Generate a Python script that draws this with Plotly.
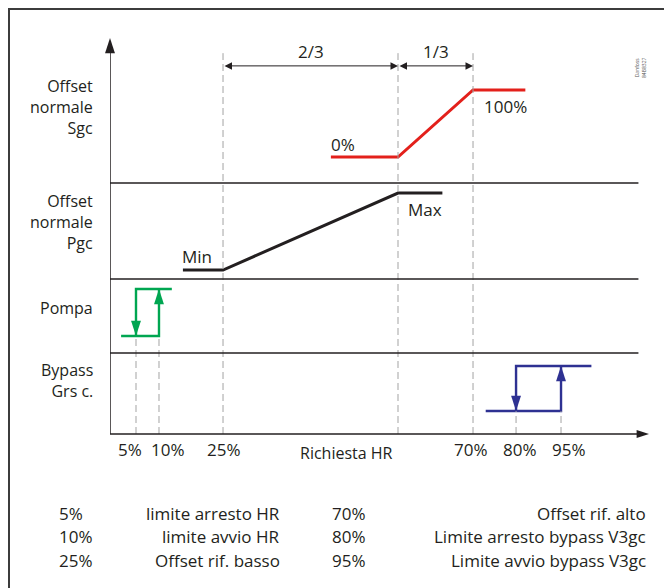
import plotly.graph_objects as go

# ---------------------------------------------------------------------------
# Data
# ---------------------------------------------------------------------------
# HR demand axis: schematic positions along the axis (0..100 = length up to the
# end of the panel separators), with the tick labels shown under the axis.
hr_labels = ["5%", "10%", "25%", "70%", "80%", "95%"]
hr_pos = [4.92, 9.27, 21.39, 68.70, 76.84, 85.35]
split_pos = 54.50          # 2/3 of the way from 25% to 70%
bracket_labels = ["2/3", "1/3"]

# Offset normale Sgc: 0 % .. 100 %
sgc_x = [41.8, split_pos, hr_pos[3], 78.6]
sgc_y = [0, 0, 100, 100]

# Offset normale Pgc: Min (0) .. Max (1)
pgc_x = [13.8, hr_pos[2], split_pos, 62.9]
pgc_y = [0, 0, 1, 1]

# Pompa: stops at 5 %, starts at 10 % (0 = off, 1 = on)
pump_x = [11.7, hr_pos[0], hr_pos[0], None, 2.1, hr_pos[1], hr_pos[1]]
pump_y = [1, 1, 0, None, 0, 0, 1]
pump_arrow_x = [hr_pos[0], hr_pos[1]]
pump_arrow_y = [0, 1]

# Bypass Grs c.: stops at 80 %, starts at 95 %
byp_x = [91.1, hr_pos[4], hr_pos[4], None, 71.1, hr_pos[5], hr_pos[5]]
byp_y = [1, 1, 0, None, 0, 0, 1]
byp_arrow_x = [hr_pos[4], hr_pos[5]]
byp_arrow_y = [0, 1]

# Explanation table under the chart
legend_left_pct = ["5%", "10%", "25%"]
legend_left_txt = ["limite arresto HR", "limite avvio HR", "Offset rif. basso"]
legend_right_pct = ["70%", "80%", "95%"]
legend_right_txt = ["Offset rif. alto", "Limite arresto bypass V3gc",
                    "Limite avvio bypass V3gc"]

row_titles = {
    "sgc": ["Offset", "normale", "Sgc"],
    "pgc": ["Offset", "normale", "Pgc"],
    "pump": ["Pompa"],
    "byp": ["Bypass", "Grs c."],
}

# ---------------------------------------------------------------------------
# Styling / layout
# ---------------------------------------------------------------------------
W, H = 664, 588
ML, MR, MT, MB = 110, 15, 38, 154
PW, PH = W - ML - MR, H - MT - MB
X_RANGE = [0, 102]

INK = "#231f20"
GRID = "#a3a3a3"
RED = "#e3201b"
GREEN = "#00a651"
BLUE = "#2e3192"
FONT = "Open Sans"
FS = 17

# panel rows: (axis id, paper domain, value range)
rows = {
    "byp": ("y", [0.0, 0.2045], [-0.5111, 1.2889]),
    "pump": ("y2", [0.2045, 0.3914], [-0.3617, 1.2128]),
    "pgc": ("y3", [0.3914, 0.6338], [-0.1169, 1.1299]),
    "sgc": ("y4", [0.6338, 1.0], [-38.81, 177.61]),
}


def paper_y(row, v):
    _, (d0, d1), (r0, r1) = rows[row]
    return d0 + (v - r0) / (r1 - r0) * (d1 - d0)


def px_x(px):
    return (px - ML) / PW


def px_y(py):
    return (H - MB - py) / PH


fig = go.Figure()

# signal curves
fig.add_trace(go.Scatter(x=sgc_x, y=sgc_y, yaxis="y4", mode="lines",
                         line=dict(color=RED, width=3)))
fig.add_trace(go.Scatter(x=pgc_x, y=pgc_y, yaxis="y3", mode="lines",
                         line=dict(color=INK, width=3)))
fig.add_trace(go.Scatter(x=pump_x, y=pump_y, yaxis="y2", mode="lines",
                         line=dict(color=GREEN, width=2.4)))
fig.add_trace(go.Scatter(x=pump_arrow_x, y=pump_arrow_y, yaxis="y2", mode="markers",
                         marker=dict(symbol="arrow", size=16, angle=[180, 0],
                                     color=GREEN, line=dict(width=0))))
fig.add_trace(go.Scatter(x=byp_x, y=byp_y, yaxis="y", mode="lines",
                         line=dict(color=BLUE, width=2.4)))
fig.add_trace(go.Scatter(x=byp_arrow_x, y=byp_arrow_y, yaxis="y", mode="markers",
                         marker=dict(symbol="arrow", size=16, angle=[180, 0],
                                     color=BLUE, line=dict(width=0))))

# axis arrow heads
fig.add_trace(go.Scatter(x=[0], y=[rows["sgc"][2][1]], yaxis="y4", mode="markers",
                         cliponaxis=False,
                         marker=dict(symbol="arrow", size=16, angle=0, color=INK,
                                     line=dict(width=0))))
fig.add_trace(go.Scatter(x=[X_RANGE[1]], y=[rows["byp"][2][0]], yaxis="y", mode="markers",
                         cliponaxis=False,
                         marker=dict(symbol="arrow", size=13, angle=90, color=INK,
                                     line=dict(width=0))))

shapes = []
# outer frame
shapes.append(dict(type="rect", xref="paper", yref="paper",
                   x0=px_x(9), x1=px_x(700), y0=px_y(640), y1=px_y(9),
                   line=dict(color="#3c3c3c", width=2), fillcolor="rgba(0,0,0,0)"))

# dashed guide lines
guide_top = 155
for xv in [hr_pos[2], split_pos, hr_pos[3]]:
    shapes.append(dict(type="line", xref="x", yref="paper", x0=xv, x1=xv,
                       y0=0, y1=paper_y("sgc", guide_top),
                       line=dict(color=GRID, width=1, dash="7px,4px")))
for xv in [hr_pos[0], hr_pos[1]]:
    shapes.append(dict(type="line", xref="x", yref="paper", x0=xv, x1=xv,
                       y0=0, y1=paper_y("pump", 0),
                       line=dict(color=GRID, width=1, dash="7px,4px")))
for xv in [hr_pos[4], hr_pos[5]]:
    shapes.append(dict(type="line", xref="x", yref="paper", x0=xv, x1=xv,
                       y0=0, y1=paper_y("byp", 0),
                       line=dict(color=GRID, width=1, dash="7px,4px")))

# panel separators
for r in ["pump", "pgc", "sgc"]:
    yy = rows[r][1][0]
    shapes.append(dict(type="line", xref="x", yref="paper", x0=0, x1=100,
                       y0=yy, y1=yy, line=dict(color=INK, width=1.5)))

# axes
shapes.append(dict(type="line", xref="x", yref="paper", x0=0, x1=0, y0=0, y1=0.985,
                   line=dict(color=INK, width=1.5)))
shapes.append(dict(type="line", xref="x", yref="paper", x0=0, x1=X_RANGE[1] - 1,
                   y0=0, y1=0, line=dict(color=INK, width=1.5)))

annotations = []


def text(x, y, s, xanchor="center", size=FS, xref="paper", yref="paper", **kw):
    annotations.append(dict(x=x, y=y, xref=xref, yref=yref, text=s, showarrow=False,
                            xanchor=xanchor, yanchor="middle",
                            font=dict(family=FONT, size=size, color=INK), **kw))


# 2/3 and 1/3 brackets
bracket_level = 136
for (a, b), lab in zip([(hr_pos[2], split_pos), (split_pos, hr_pos[3])], bracket_labels):
    annotations.append(dict(x=b, y=bracket_level, xref="x", yref="y4",
                            ax=a, ay=bracket_level, axref="x", ayref="y4",
                            text="", showarrow=True, arrowhead=2, startarrowhead=2,
                            arrowside="end+start", arrowsize=1.5, startarrowsize=1.5,
                            arrowwidth=1, arrowcolor=INK))
    text((a + b) / 2, 158, lab, xref="x", yref="y4")

# curve labels
text(44.1, 18, "0%", xref="x", yref="y4")
text(74.9, 76, "100%", xref="x", yref="y4")
text(16.5, 0.18, "Min", xref="x", yref="y3")
text(59.6, 0.79, "Max", xref="x", yref="y3")

# row titles (right aligned next to the vertical axis)
title_center_y = {"sgc": 106.5, "pgc": 222, "pump": 308, "byp": 380.5}
for key, lines in row_titles.items():
    text(px_x(95), px_y(title_center_y[key]), "<br>".join(lines),
         xanchor="right", size=16, align="right")

# tick labels under the HR axis
tick_shift = [-6, 9, 1, -2, 4, 8]
for lab, xv, sh in zip(hr_labels, hr_pos, tick_shift):
    annotations.append(dict(x=xv, y=px_y(449), xref="x", yref="paper", text=lab,
                            showarrow=False, xanchor="center", yanchor="middle",
                            xshift=sh, font=dict(family=FONT, size=FS, color=INK)))
text(px_x(346), px_y(453), "Richiesta HR", size=16)

# explanation table
for i in range(3):
    py = px_y(513 + 23.5 * i)
    text(px_x(57), py, legend_left_pct[i], xanchor="left")
    text(px_x(282), py, legend_left_txt[i], xanchor="right")
    text(px_x(330), py, legend_right_pct[i], xanchor="left")
    text(px_x(648), py, legend_right_txt[i], xanchor="right")

# drawing reference code
annotations.append(dict(x=px_x(649), y=px_y(55), xref="paper", yref="paper",
                        text="Danfoss<br>84B8327", showarrow=False, textangle=-90,
                        font=dict(family=FONT, size=5, color="#555555")))

axis_common = dict(visible=False, fixedrange=True)
fig.update_layout(
    width=W, height=H,
    margin=dict(l=ML, r=MR, t=MT, b=MB, pad=0),
    paper_bgcolor="white", plot_bgcolor="white",
    showlegend=False, hovermode=False,
    xaxis=dict(range=X_RANGE, domain=[0, 1], anchor="y", **axis_common),
    yaxis=dict(domain=rows["byp"][1], range=rows["byp"][2], anchor="x", **axis_common),
    yaxis2=dict(domain=rows["pump"][1], range=rows["pump"][2], anchor="x", **axis_common),
    yaxis3=dict(domain=rows["pgc"][1], range=rows["pgc"][2], anchor="x", **axis_common),
    yaxis4=dict(domain=rows["sgc"][1], range=rows["sgc"][2], anchor="x", **axis_common),
    shapes=shapes,
    annotations=annotations,
)

fig.write_html("out.html")
